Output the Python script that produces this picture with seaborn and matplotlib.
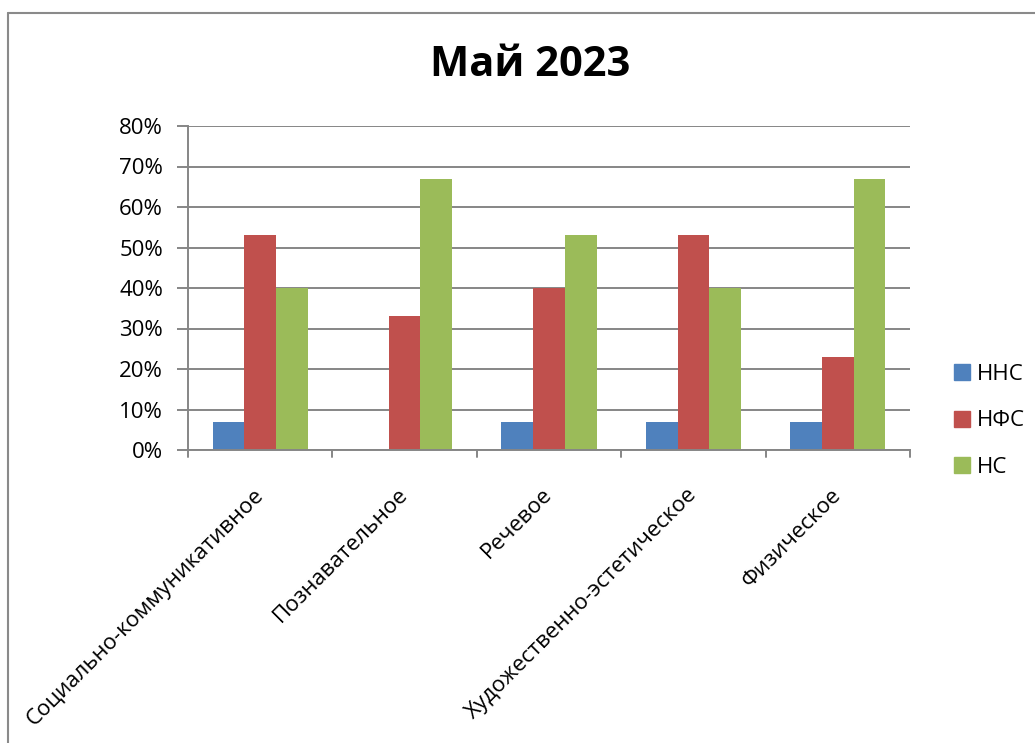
import matplotlib
matplotlib.use("Agg")
import matplotlib.pyplot as plt
import seaborn as sns
import pandas as pd
from matplotlib.lines import Line2D
from matplotlib.ticker import PercentFormatter

categories = ["Социально-коммуникативное", "Познавательное", "Речевое",
              "Художественно-эстетическое", "Физическое"]
series_names = ["ННС", "НФС", "НС"]
nns = [7, 0, 7, 7, 7]
nfs = [53, 33, 40, 53, 23]
ns = [40, 67, 53, 40, 67]
colors = ["#4F81BD", "#C0504D", "#9BBB59"]
title = "Май 2023"

rows = []
for name, vals in zip(series_names, [nns, nfs, ns]):
    for c, v in zip(categories, vals):
        rows.append({"cat": c, "series": name, "value": v})
df = pd.DataFrame(rows)

sns.set_theme(style="white")
plt.rcParams['font.family'] = ['Open Sans', 'DejaVu Sans']
plt.rcParams['text.color'] = 'black'
plt.rcParams['xtick.color'] = 'black'
plt.rcParams['ytick.color'] = 'black'

fig = plt.figure(figsize=(10.35, 7.43), dpi=100)
ax = fig.add_axes([188/1035, 1-450/743, (910-188)/1035, (450-126)/743])

sns.barplot(data=df, x="cat", y="value", hue="series", palette=colors,
            width=0.66, saturation=1, ax=ax, legend=False, edgecolor="none")

ax.set_ylim(0, 80)
ax.set_xlim(-0.5, len(categories) - 0.5)
ax.set_yticks(range(0, 81, 10))
ax.yaxis.set_major_formatter(PercentFormatter(decimals=0))
ax.grid(axis="y", color="#868686", linewidth=1.4)
ax.set_axisbelow(True)
for s in ["top", "right"]:
    ax.spines[s].set_visible(False)
for s in ["left", "bottom"]:
    ax.spines[s].set_color("#868686")
    ax.spines[s].set_linewidth(1.4)
ax.set_xlabel("")
ax.set_ylabel("")
ax.tick_params(axis="y", length=8, width=1.4, color="#868686", labelsize=16,
               labelcolor="black", pad=10, left=True)
ax.set_xticks([i for i in range(len(categories))])
ax.set_xticklabels(categories, rotation=45, ha="right", va="center",
                   rotation_mode="anchor", fontsize=16, color="black")
ax.tick_params(axis="x", length=0, pad=30)
# category boundary ticks
for b in [i - 0.5 for i in range(len(categories) + 1)]:
    ax.plot([b, b], [0, -0.022], transform=ax.get_xaxis_transform(),
            color="#868686", lw=1.4, clip_on=False)

fig.text(530/1035, 1-65/743, title, ha="center", va="center",
         fontsize=30, fontweight="bold", color="black")

handles = [Line2D([0], [0], marker="s", linestyle="none", markersize=11,
                  markerfacecolor=c, markeredgecolor=c) for c in colors]
fig.legend(handles, series_names, loc="center left",
           bbox_to_anchor=(944/1035, 1-421/743), frameon=False, fontsize=16,
           handlelength=0.8, handletextpad=0.3, labelspacing=1.15,
           borderaxespad=0, labelcolor="black")

# outer frame (top and left visible)
fig.add_artist(Line2D([8/1035, 8/1035], [0, 1-13/743], color="#8a8a8a", lw=1.5))
fig.add_artist(Line2D([8/1035, 1], [1-13/743, 1-13/743], color="#8a8a8a", lw=1.5))

fig.savefig("out.png", dpi=100)
